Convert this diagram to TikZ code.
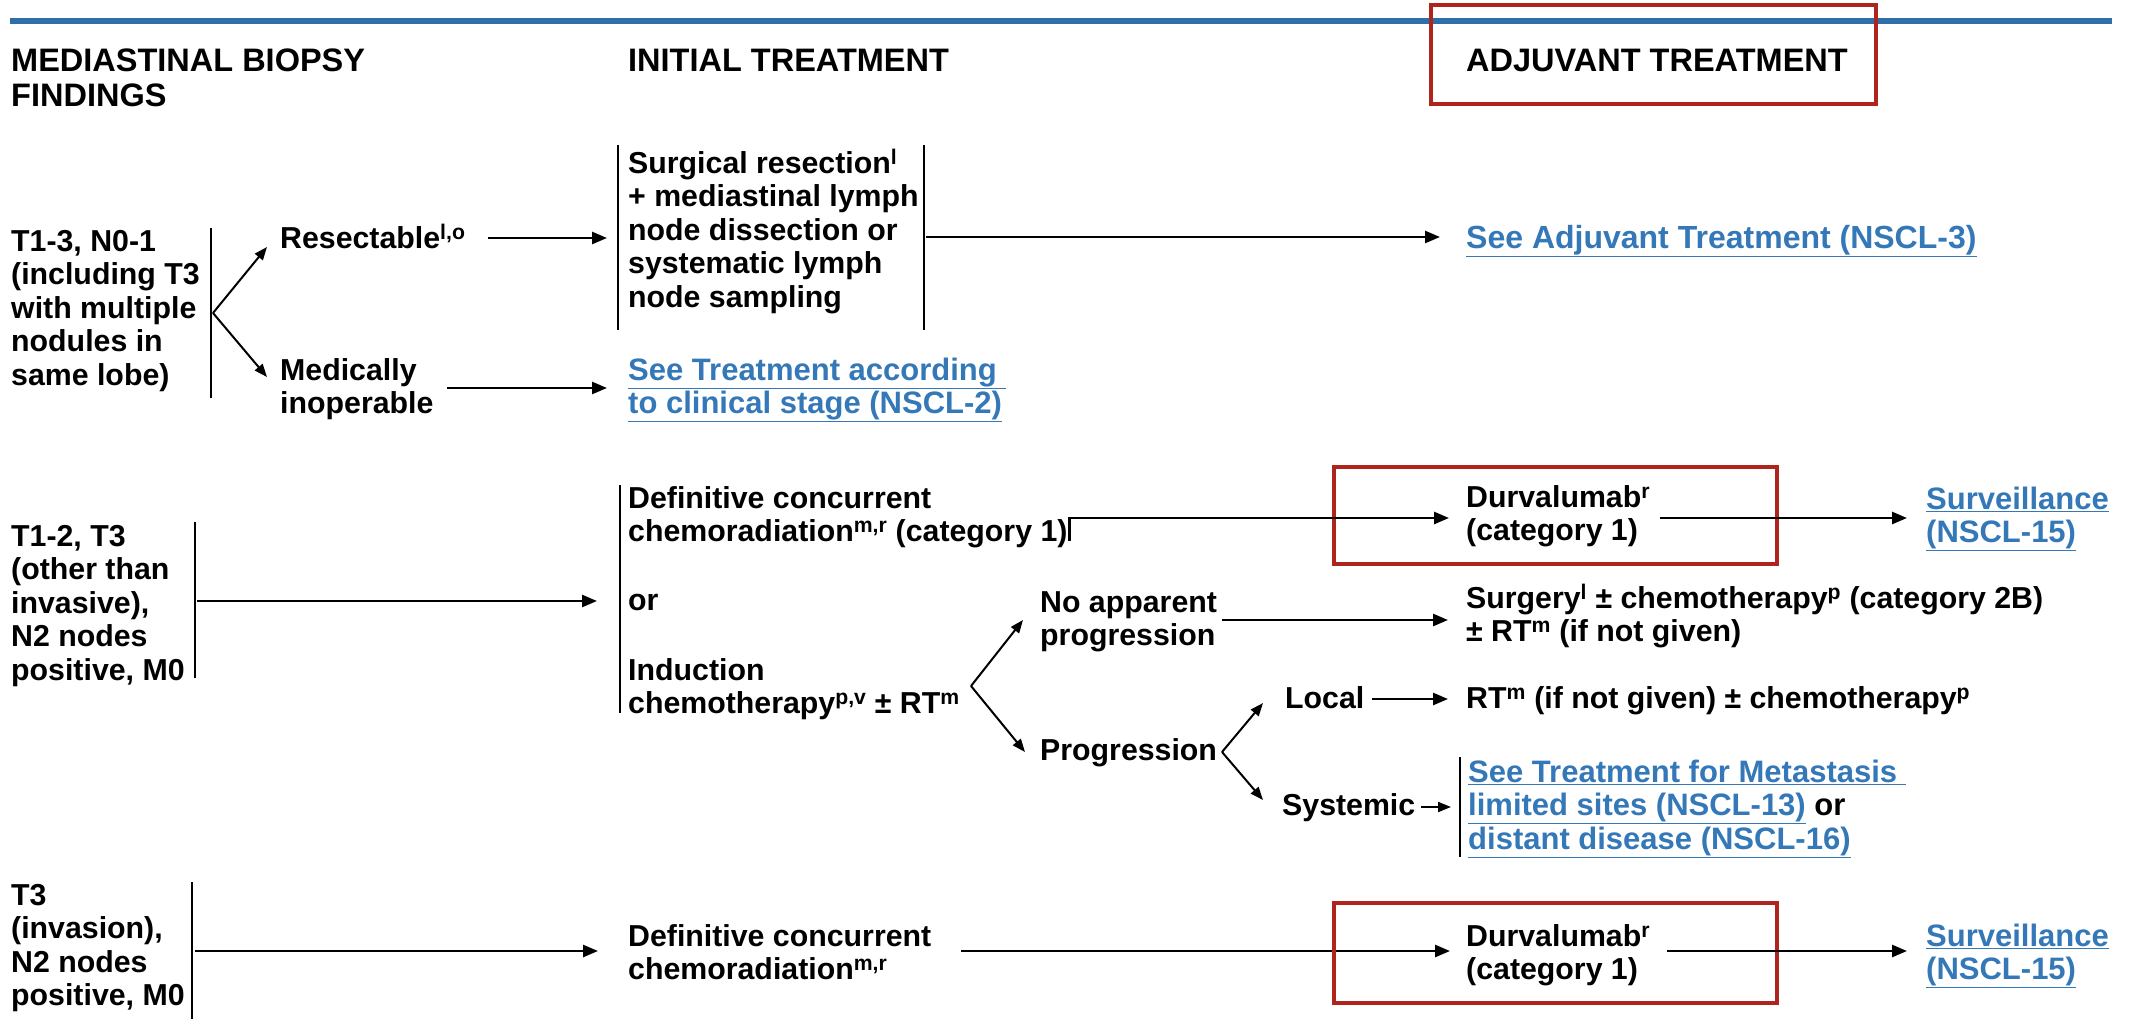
\documentclass[tikz,border=0pt]{standalone}
\usepackage{fontspec}
\setmainfont{Liberation Sans}
\usetikzlibrary{arrows.meta}
\definecolor{rulec}{HTML}{2F6EA8}
\definecolor{linkb}{HTML}{3478B8}
\definecolor{boxred}{HTML}{B0241E}
\newcommand\fs{\vrule width 0pt height 30pt\relax}
\newcommand\lnk[1]{\textcolor{linkb}{\underline{#1}}}
\newcommand\sups[1]{\textsuperscript{#1}}
\newcommand\myfont{\fontsize{30.3}{33.5}\selectfont\bfseries\setlength{\lineskiplimit}{-100pt}}
\newcommand\lkfont{\fontsize{31}{33.5}\selectfont\bfseries\setlength{\lineskiplimit}{-100pt}}
\newcommand\bgfont{\fontsize{32}{33.5}\selectfont\bfseries\setlength{\lineskiplimit}{-100pt}}
\newcommand\hdfont{\fontsize{32.5}{35}\selectfont\bfseries\setlength{\lineskiplimit}{-100pt}}
\begin{document}
\begin{tikzpicture}[x=1pt,y=-1pt,
  txt/.style={anchor=north west,inner sep=0pt,align=left,font=\myfont},
  lk/.style={txt,font=\lkfont},
  lkb/.style={txt,font=\bgfont},
  hdr/.style={txt,font=\hdfont},
  arr/.style={line width=2.6pt,-{Triangle[length=15pt,width=12pt]}},
  arrs/.style={line width=2pt,-{Triangle[length=13pt,width=10pt]}},
  barl/.style={line width=2pt},
  redbox/.style={draw=boxred,line width=4.5pt}]
\useasboundingbox (0,0) rectangle (2131,1019);
\fill[white] (0,0) rectangle (2131,1019);
% header
\draw[line width=6pt,rulec] (10,21) -- (2112,21);
\node[hdr] (h1) at (11,41) {\fs MEDIASTINAL BIOPSY\\FINDINGS};
\node[hdr] (h2) at (628,41) {\fs INITIAL TREATMENT};
\node[hdr] (h3) at (1466,41) {\fs ADJUVANT TREATMENT};
\draw[redbox] (1431,5) rectangle (1876,104);
% row 1
\node[txt] (a1) at (11,221) {\fs T1-3, N0-1\\(including T3\\with multiple\\nodules in\\same lobe)};
\node[txt] (b1) at (280,218) {\fs Resectable\sups{l,o}};
\node[txt] (b2) at (280,350) {\fs Medically\\inoperable};
\node[txt] (s1) at (628,143) {\fs Surgical resection\sups{l}\\+ mediastinal lymph\\node dissection or\\systematic lymph\\node sampling};
\node[lkb] (l1) at (1466,218) {\fs \lnk{See Adjuvant Treatment (NSCL-3)}};
\node[lk] (l2) at (628,350) {\fs \lnk{See Treatment according }\\\lnk{to clinical stage (NSCL-2)}};
\coordinate (bar1t) at (211,228); \coordinate (bar1b) at (211,398);
\draw[barl] (bar1t) -- (bar1b);
\coordinate (o1) at (213,313); \coordinate (o1u) at (267,247); \coordinate (o1d) at (267,377);
\draw[arrs] (o1) -- (o1u);
\draw[arrs] (o1) -- (o1d);
\coordinate (s1lt) at (618,145); \coordinate (s1lb) at (618,330);
\coordinate (s1rt) at (924,145); \coordinate (s1rb) at (924,330);
\draw[barl] (s1lt) -- (s1lb);
\draw[barl] (s1rt) -- (s1rb);
\coordinate (r1a) at (488,238); \coordinate (r1b) at (607,238);
\draw[arr] (r1a) -- (r1b);
\coordinate (r2a) at (926,237); \coordinate (r2b) at (1440,237);
\draw[arr] (r2a) -- (r2b);
\coordinate (r3a) at (447,388); \coordinate (r3b) at (607,388);
\draw[arr] (r3a) -- (r3b);
% row 2
\node[txt] (a2) at (11,516) {\fs T1-2, T3\\(other than\\invasive),\\N2 nodes\\positive, M0};
\coordinate (bar2t) at (195,522); \coordinate (bar2b) at (195,678);
\draw[barl] (bar2t) -- (bar2b);
\coordinate (r4a) at (197,601); \coordinate (r4b) at (597,601);
\draw[arr] (r4a) -- (r4b);
\coordinate (cbt) at (620,485); \coordinate (cbb) at (620,713);
\draw[barl] (cbt) -- (cbb);
\node[txt] (c1) at (628,478) {\fs Definitive concurrent\\chemoradiation\sups{m,r} (category 1)};
\node[txt] (c2) at (628,580) {\fs or};
\node[txt] (c3) at (628,650) {\fs Induction\\chemotherapy\sups{p,v} ± RT\sups{m}};
\draw[redbox] (1334,467) rectangle (1777,564);
\node[txt] (d1) at (1466,477) {\fs Durvalumab\sups{r}\\(category 1)};
\node[lk] (e1) at (1926,479) {\fs \lnk{Surveillance}\\\lnk{(NSCL-15)}};
\coordinate (k1) at ([xshift=2pt]c1.east |- 0,541);
\coordinate (k2) at ([xshift=2pt]c1.east |- 0,518);
\coordinate (k3) at (1449,518);
\draw[arr] (k1) -- (k2) -- (k3);
\coordinate (k4) at (1660,518); \coordinate (k5) at (1907,518);
\draw[arr] (k4) -- (k5);
\coordinate (o2) at (971,686); \coordinate (o2u) at (1023,620); \coordinate (o2d) at (1025,752);
\draw[arrs] (o2) -- (o2u);
\draw[arrs] (o2) -- (o2d);
\node[txt] (n1) at (1040,582) {\fs No apparent\\progression};
\node[txt] (n2) at (1466,578) {\fs Surgery\sups{l} ± chemotherapy\sups{p} (category 2B)\\± RT\sups{m} (if not given)};
\coordinate (r5a) at (1222,620); \coordinate (r5b) at (1448,620);
\draw[arr] (r5a) -- (r5b);
\node[txt] (p1) at (1040,730) {\fs Progression};
\coordinate (o3) at (1222,752); \coordinate (o3u) at (1263,703); \coordinate (o3d) at (1263,800);
\draw[arrs] (o3) -- (o3u);
\draw[arrs] (o3) -- (o3d);
\node[txt] (q1) at (1285,678) {\fs Local};
\coordinate (r6a) at (1372,699); \coordinate (r6b) at (1448,699);
\draw[arr] (r6a) -- (r6b);
\node[txt] (q2) at (1466,678) {\fs RT\sups{m} (if not given) ± chemotherapy\sups{p}};
\node[txt] (q3) at (1282,785) {\fs Systemic};
\coordinate (r7a) at (1421,807); \coordinate (r7b) at (1451,807);
\draw[arrs] (r7a) -- (r7b);
\coordinate (sbt) at (1460,757); \coordinate (sbb) at (1460,857);
\draw[barl] (sbt) -- (sbb);
\node[lk] (q4) at (1468,752) {\fs \lnk{See Treatment for Metastasis }\\\lnk{limited sites (NSCL-13)} or\\\lnk{distant disease (NSCL-16)}};
% row 3
\node[txt] (a3) at (11,875) {\fs T3\\(invasion),\\N2 nodes\\positive, M0};
\coordinate (bar3t) at (192,882); \coordinate (bar3b) at (192,1019);
\draw[barl] (bar3t) -- (bar3b);
\coordinate (r8a) at (195,951); \coordinate (r8b) at (598,951);
\draw[arr] (r8a) -- (r8b);
\node[txt] (f1) at (628,916) {\fs Definitive concurrent\\chemoradiation\sups{m,r}};
\coordinate (r9a) at (961,951); \coordinate (r9b) at (1450,951);
\draw[arr] (r9a) -- (r9b);
\draw[redbox] (1334,903) rectangle (1777,1003);
\node[txt] (d2) at (1466,916) {\fs Durvalumab\sups{r}\\(category 1)};
\coordinate (r10a) at (1667,951); \coordinate (r10b) at (1907,951);
\draw[arr] (r10a) -- (r10b);
\node[lk] (e2) at (1926,916) {\fs \lnk{Surveillance}\\\lnk{(NSCL-15)}};
\end{tikzpicture}
\end{document}
